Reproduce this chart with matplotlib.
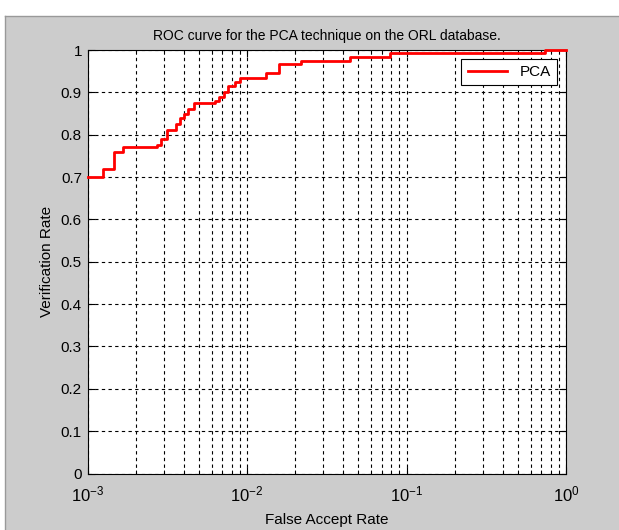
import math
import matplotlib
matplotlib.use('Agg')
import matplotlib.pyplot as plt
from matplotlib.patches import Rectangle
from matplotlib.ticker import FixedLocator, FuncFormatter, LogLocator, NullFormatter

plt.rcParams['font.family'] = ['Liberation Sans', 'DejaVu Sans']
plt.rcParams['mathtext.fontset'] = 'custom'
plt.rcParams['mathtext.rm'] = 'Liberation Sans'
plt.rcParams['mathtext.it'] = 'Liberation Sans'

# step points of the ROC curve (level holds from each x to the next)
far = [0.001, 0.00125, 0.00147, 0.00167, 0.00274, 0.0029, 0.00315, 0.00357,
       0.00378, 0.00403, 0.00427, 0.00465, 0.00627, 0.00668, 0.00714, 0.00756,
       0.0084, 0.00904, 0.0131, 0.0158, 0.0217, 0.0441, 0.0787, 0.74, 1.0]
vr = [0.70, 0.72, 0.76, 0.77, 0.775, 0.79, 0.81, 0.825,
      0.84, 0.85, 0.86, 0.875, 0.88, 0.89, 0.90, 0.915,
      0.925, 0.935, 0.945, 0.967, 0.975, 0.984, 0.994, 1.0, 1.0]

y_ticks = [0, 0.1, 0.2, 0.3, 0.4, 0.5, 0.6, 0.7, 0.8, 0.9, 1.0]
x_ticks = [1e-3, 1e-2, 1e-1, 1e0]

bg = '#cccccc'
fig = plt.figure(figsize=(6.19, 5.30), dpi=100, facecolor=bg)
# white strip on top / left like the screenshot border
fig.patches.append(Rectangle((0, 1 - 16/530), 1, 16/530, transform=fig.transFigure,
                             facecolor='white', edgecolor='none', zorder=0))
fig.patches.append(Rectangle((0, 0), 5/619, 1, transform=fig.transFigure,
                             facecolor='white', edgecolor='none', zorder=0))
fig.lines.append(plt.Line2D([5/619, 1], [1 - 16/530, 1 - 16/530], transform=fig.transFigure,
                            color='#999999', lw=1))
fig.lines.append(plt.Line2D([5/619, 5/619], [0, 1 - 16/530], transform=fig.transFigure,
                            color='#999999', lw=1))

ax = fig.add_axes([87.5/619, 1 - 473.5/530, (566 - 87.5)/619, (473.5 - 50)/530])
ax.set_facecolor('white')
ax.step(far, vr, where='post', color='red', lw=2, label='PCA', clip_on=False, zorder=3)

ax.set_xscale('log')
ax.set_xlim(1e-3, 1)
ax.set_ylim(0, 1)
ax.xaxis.set_major_locator(FixedLocator(x_ticks))
ax.xaxis.set_minor_locator(LogLocator(base=10, subs=range(2, 10)))
ax.xaxis.set_minor_formatter(NullFormatter())
ax.xaxis.set_major_formatter(FuncFormatter(lambda v, p: r'$10^{%d}$' % round(math.log10(v))))
ax.yaxis.set_major_locator(FixedLocator(y_ticks))
ax.yaxis.set_major_formatter(FuncFormatter(lambda v, p: '%g' % v))

ax.grid(True, which='major', axis='both', color='black', ls=(0, (3, 3)), lw=0.8)
ax.grid(True, which='minor', axis='x', color='black', ls=(0, (3, 3)), lw=0.8)
ax.tick_params(which='both', direction='in', top=True, right=True, labelsize=11)
ax.tick_params(axis='y', pad=4)
ax.tick_params(axis='x', which='major', labelsize=12, pad=8)
ax.tick_params(which='major', length=5)
ax.tick_params(which='minor', length=3)
for s in ax.spines.values():
    s.set_color('black')
    s.set_linewidth(0.8)

ax.set_title('ROC curve for the PCA technique on the ORL database.', fontsize=10, pad=7)
ax.set_xlabel('False Accept Rate', fontsize=11, labelpad=6)
ax.set_ylabel('Verification Rate', fontsize=11, labelpad=5)

leg = ax.legend(loc='upper right', fontsize=11, fancybox=False, framealpha=1,
                edgecolor='black', borderaxespad=0.6, handlelength=2.6)
leg.get_frame().set_linewidth(0.8)

fig.savefig('out.png', dpi=100, facecolor=bg)
